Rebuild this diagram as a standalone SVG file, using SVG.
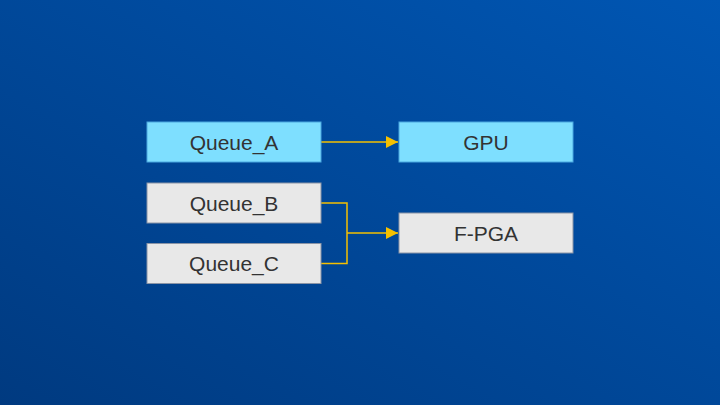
<svg xmlns="http://www.w3.org/2000/svg" width="720" height="405" viewBox="0 0 720 405">
<defs>
<linearGradient id="bg" x1="0" y1="1" x2="1" y2="0">
<stop offset="0" stop-color="#003a80"/>
<stop offset="1" stop-color="#0056b3"/>
</linearGradient>
<marker id="ah" viewBox="0 0 12 12" refX="12" refY="6" markerWidth="12" markerHeight="12" markerUnits="userSpaceOnUse" orient="auto">
<path d="M0,0 L12,6 L0,12 Z" fill="#f5c000"/>
</marker>
<style>
.blue{fill:#7edfff;stroke:#4aa8e0;stroke-width:1}
.gray{fill:#e8e8e8;stroke:#8a94a6;stroke-width:1}
.lbl{font-family:"Liberation Sans",Arial,sans-serif;font-size:21px;fill:#333;text-anchor:middle;dominant-baseline:central}
.conn{fill:none;stroke:#f5c000;stroke-width:1.5}
</style>
</defs>
<rect width="720" height="405" fill="url(#bg)"/>
<g id="connectors">
<path class="conn" d="M321,142 H398" marker-end="url(#ah)"/>
<path class="conn" d="M321,203 H347 V263.5 H321"/>
<path class="conn" d="M347,233 H398" marker-end="url(#ah)"/>
</g>
<g id="queue_a"><rect class="blue" x="147" y="122" width="174" height="40"/><text class="lbl" x="234" y="142">Queue_A</text></g>
<g id="gpu"><rect class="blue" x="399" y="122" width="174" height="40"/><text class="lbl" x="486" y="142">GPU</text></g>
<g id="queue_b"><rect class="gray" x="147" y="183" width="174" height="40"/><text class="lbl" x="234" y="203">Queue_B</text></g>
<g id="queue_c"><rect class="gray" x="147" y="243.5" width="174" height="40"/><text class="lbl" x="234" y="263.5">Queue_C</text></g>
<g id="fpga"><rect class="gray" x="399" y="213" width="174" height="40"/><text class="lbl" x="486" y="233">F-PGA</text></g>
</svg>
